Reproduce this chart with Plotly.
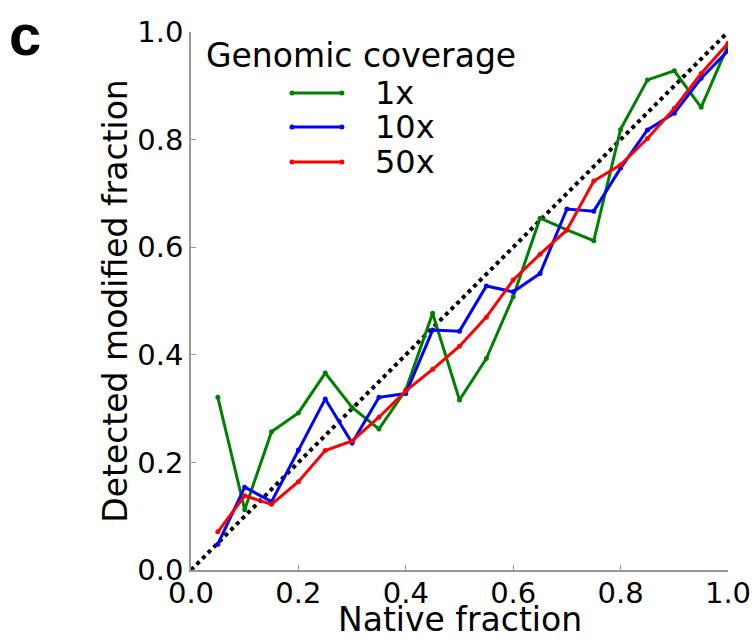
import plotly.graph_objects as go

native = [0.05, 0.10, 0.15, 0.20, 0.25, 0.30, 0.35, 0.40, 0.45, 0.50,
          0.55, 0.60, 0.65, 0.70, 0.75, 0.80, 0.85, 0.90, 0.95, 1.00]
cov_1x = [0.321, 0.112, 0.257, 0.292, 0.366, 0.302, 0.262, 0.335, 0.477, 0.316,
          0.393, 0.508, 0.654, 0.632, 0.612, 0.819, 0.911, 0.928, 0.860, 0.975]
cov_10x = [0.048, 0.154, 0.127, 0.223, 0.318, 0.236, 0.321, 0.328, 0.446, 0.444,
           0.528, 0.517, 0.551, 0.671, 0.667, 0.747, 0.818, 0.849, 0.914, 0.965]
cov_50x = [0.071, 0.138, 0.122, 0.164, 0.222, 0.240, 0.284, 0.333, 0.373, 0.416,
           0.470, 0.539, 0.587, 0.632, 0.723, 0.753, 0.802, 0.858, 0.923, 0.979]
diag = [0.0, 1.0]
series_names = ["1x", "10x", "50x"]
series_colors = ["#008000", "#0000ff", "#ff0000"]
tick_vals = [0.0, 0.2, 0.4, 0.6, 0.8, 1.0]
tick_text = ["0.0", "0.2", "0.4", "0.6", "0.8", "1.0"]
legend_title = "Genomic coverage"
x_title = "Native fraction"
y_title = "Detected modified fraction"

FONT = "DejaVu Sans"
TICK_SIZE = 29
LABEL_SIZE = 33
LEGEND_SIZE = 32

fig = go.Figure()
fig.add_trace(go.Scatter(x=diag, y=diag, mode="lines",
                         line=dict(color="black", width=4, dash="dot"),
                         showlegend=False, hoverinfo="skip"))
for name, ys, col in zip(series_names, [cov_1x, cov_10x, cov_50x], series_colors):
    fig.add_trace(go.Scatter(x=native, y=ys, mode="lines+markers", name=name,
                             line=dict(color=col, width=3),
                             marker=dict(color=col, size=5),
                             showlegend=False))

axis_common = dict(range=[0, 1], tickvals=tick_vals, ticktext=tick_text,
                   showgrid=False, zeroline=False, showline=True,
                   linecolor="#999999", linewidth=1.5, ticks="inside",
                   ticklen=5, tickcolor="#999999",
                   tickfont=dict(family=FONT, size=TICK_SIZE, color="black"),
                   mirror=False, automargin=False)

# legend drawn in paper coordinates (matplotlib-like compact layout)
legend_rows_y = [0.8866, 0.8234, 0.7584]
lx0, lx1 = 0.188, 0.281
rx, ry = 2.5 / 537, 2.5 / 538
shapes = []
annotations = [
    dict(text=legend_title, xref="paper", yref="paper",
         x=0.025, y=0.996, xanchor="left", yanchor="top", showarrow=False,
         font=dict(family=FONT, size=LABEL_SIZE, color="black")),
    dict(text="<b>c</b>", xref="paper", yref="paper",
         x=-0.342, y=1.059, xanchor="left", yanchor="top", showarrow=False,
         font=dict(family="Liberation Sans", size=58, color="black")),
    dict(text=x_title, xref="paper", yref="paper",
         x=0.5, y=-0.132, xanchor="center", yanchor="bottom", showarrow=False,
         font=dict(family=FONT, size=LABEL_SIZE, color="black")),
]
for name, col, ly in zip(series_names, series_colors, legend_rows_y):
    shapes.append(dict(type="line", xref="paper", yref="paper",
                       x0=lx0, x1=lx1, y0=ly, y1=ly,
                       line=dict(color=col, width=3)))
    for ex in (lx0, lx1):
        shapes.append(dict(type="circle", xref="paper", yref="paper",
                           x0=ex - rx, x1=ex + rx, y0=ly - ry, y1=ly + ry,
                           fillcolor=col, line=dict(width=0)))
    annotations.append(dict(text=name, xref="paper", yref="paper",
                            x=0.338, y=ly, xanchor="left", yanchor="middle",
                            showarrow=False,
                            font=dict(family=FONT, size=LEGEND_SIZE, color="black")))

fig.update_layout(
    width=756, height=640,
    margin=dict(l=191, r=28, t=32, b=70),
    paper_bgcolor="white", plot_bgcolor="white",
    font=dict(family=FONT, color="black"),
    showlegend=False,
    xaxis=dict(**axis_common, ticklabelstandoff=-4),
    yaxis=dict(**axis_common, ticklabelstandoff=0,
               title=dict(text=y_title, standoff=0,
                          font=dict(family=FONT, size=LABEL_SIZE, color="black"))),
    shapes=shapes,
    annotations=annotations,
)

fig.write_html("out.html")
